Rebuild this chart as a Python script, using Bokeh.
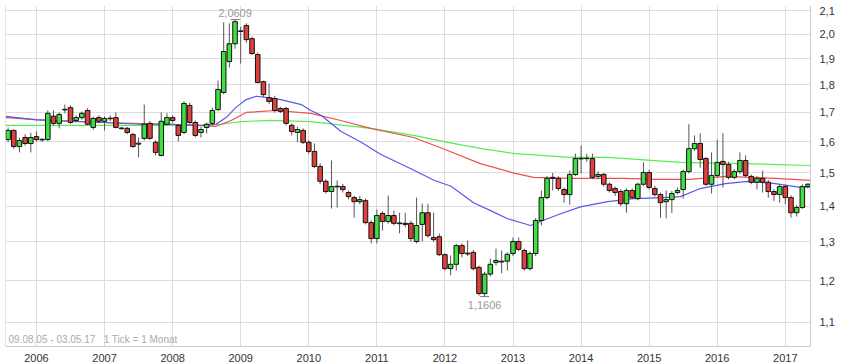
from bokeh.plotting import figure
from bokeh.models import Range1d, FixedTicker, CustomJSTickFormatter, Span, Label, ColumnDataSource
from bokeh.embed import file_html
from bokeh.resources import INLINE

# Monthly candles, Aug 2005 .. May 2017
start_year, start_month = 2005, 8
open_ = [1.607,1.638,1.584,1.614,1.594,1.617,1.606,1.607,1.687,1.662,1.709,1.717,1.672,1.682,1.707,1.648,1.682,1.669,1.678,1.682,
         1.644,1.645,1.624,1.592,1.611,1.662,1.598,1.555,1.659,1.682,1.655,1.631,1.725,1.665,1.631,1.648,1.662,1.710,1.772,1.889,
         1.960,2.011,2.036,1.981,1.917,1.812,1.753,1.750,1.714,1.714,1.655,1.631,1.638,1.598,1.568,1.520,1.474,1.443,1.457,1.458,
         1.440,1.425,1.413,1.416,1.353,1.309,1.379,1.356,1.373,1.350,1.351,1.351,1.301,1.348,1.381,1.312,1.314,1.266,1.230,1.241,
         1.290,1.268,1.272,1.233,1.168,1.216,1.246,1.247,1.249,1.269,1.301,1.277,1.230,1.269,1.359,1.425,1.486,1.483,1.449,1.434,
         1.495,1.544,1.546,1.545,1.489,1.495,1.465,1.452,1.443,1.407,1.446,1.422,1.465,1.501,1.452,1.434,1.413,1.419,1.440,1.449,
         1.504,1.577,1.594,1.545,1.465,1.492,1.536,1.526,1.486,1.504,1.539,1.489,1.471,1.483,1.471,1.443,1.434,1.458,1.425,1.381,
         1.396,1.458]
high = [1.648,1.641,1.614,1.625,1.630,1.635,1.612,1.707,1.707,1.700,1.728,1.725,1.690,1.703,1.715,1.685,1.690,1.686,1.690,1.700,
        1.650,1.650,1.630,1.614,1.728,1.670,1.605,1.700,1.697,1.690,1.660,1.740,1.735,1.672,1.650,1.665,1.717,1.816,2.049,2.045,
        2.0609,2.030,2.045,1.990,1.925,1.816,1.805,1.760,1.720,1.720,1.662,1.650,1.645,1.605,1.594,1.530,1.480,1.539,1.477,1.466,
        1.446,1.430,1.430,1.422,1.360,1.390,1.385,1.431,1.387,1.381,1.381,1.358,1.425,1.407,1.407,1.381,1.323,1.270,1.264,1.295,
        1.296,1.304,1.278,1.238,1.222,1.256,1.282,1.277,1.272,1.312,1.312,1.282,1.275,1.366,1.446,1.490,1.500,1.490,1.455,1.507,
        1.561,1.587,1.560,1.561,1.505,1.500,1.470,1.458,1.450,1.452,1.452,1.470,1.533,1.510,1.460,1.440,1.446,1.445,1.455,1.510,
        1.659,1.621,1.628,1.550,1.565,1.607,1.628,1.535,1.512,1.565,1.555,1.495,1.490,1.507,1.478,1.450,1.465,1.463,1.432,1.403,
        1.465,1.468]
low = [1.598,1.577,1.565,1.587,1.565,1.600,1.600,1.603,1.655,1.645,1.697,1.660,1.665,1.675,1.655,1.640,1.662,1.638,1.670,1.645,
       1.640,1.625,1.580,1.549,1.604,1.605,1.555,1.552,1.655,1.665,1.601,1.625,1.660,1.615,1.614,1.628,1.655,1.705,1.765,1.866,
       1.940,1.881,1.964,1.915,1.805,1.755,1.730,1.700,1.698,1.655,1.621,1.598,1.592,1.560,1.515,1.465,1.437,1.393,1.396,1.440,
       1.420,1.367,1.405,1.348,1.296,1.296,1.331,1.350,1.345,1.323,1.340,1.300,1.296,1.301,1.312,1.300,1.262,1.225,1.213,1.225,
       1.259,1.262,1.225,1.163,1.1606,1.210,1.238,1.218,1.225,1.262,1.275,1.225,1.225,1.262,1.345,1.420,1.446,1.445,1.410,1.404,
       1.490,1.498,1.535,1.480,1.480,1.458,1.440,1.430,1.400,1.381,1.420,1.417,1.460,1.450,1.428,1.367,1.365,1.380,1.435,1.422,
       1.498,1.570,1.516,1.460,1.437,1.485,1.455,1.480,1.480,1.497,1.486,1.465,1.450,1.440,1.425,1.415,1.410,1.405,1.367,1.370,
       1.392,1.452]
close = [1.638,1.584,1.604,1.594,1.614,1.607,1.608,1.697,1.662,1.693,1.711,1.665,1.682,1.697,1.659,1.679,1.669,1.679,1.680,1.648,
         1.646,1.631,1.584,1.595,1.659,1.611,1.565,1.669,1.682,1.672,1.621,1.732,1.665,1.621,1.641,1.659,1.707,1.783,1.929,1.960,
         2.052,2.013,1.977,1.921,1.809,1.764,1.739,1.707,1.704,1.662,1.634,1.641,1.598,1.568,1.520,1.474,1.443,1.458,1.459,1.449,
         1.428,1.413,1.419,1.353,1.309,1.373,1.356,1.373,1.351,1.352,1.348,1.309,1.345,1.381,1.317,1.306,1.266,1.230,1.241,1.290,
         1.269,1.270,1.230,1.168,1.216,1.241,1.251,1.249,1.267,1.301,1.280,1.230,1.269,1.359,1.425,1.483,1.483,1.452,1.434,1.495,
         1.545,1.546,1.545,1.486,1.495,1.465,1.446,1.440,1.407,1.446,1.425,1.465,1.501,1.455,1.434,1.410,1.419,1.437,1.446,1.504,
         1.577,1.594,1.542,1.465,1.492,1.533,1.526,1.486,1.504,1.539,1.492,1.471,1.483,1.471,1.443,1.434,1.458,1.425,1.381,1.396,
         1.458,1.465]

# Moving averages (year, value)
ma_blue_x = [2005.55,2006.0,2006.95,2007.54,2007.98,2008.42,2008.64,2008.79,2008.93,2009.08,2009.23,2009.37,2009.59,2009.89,2010.03,
             2010.18,2010.47,2010.77,2011.06,2011.50,2011.84,2012.09,2012.42,2012.67,2012.92,2013.26,2013.40,2013.70,2013.99,2014.39,
             2014.77,2015.21,2015.46,2015.75,2016.12,2016.45,2016.85,2017.25,2017.37]
ma_blue_y = [1.686,1.674,1.665,1.659,1.659,1.655,1.659,1.683,1.718,1.746,1.758,1.754,1.746,1.728,1.707,
             1.690,1.635,1.598,1.558,1.513,1.477,1.459,1.410,1.387,1.364,1.345,1.356,1.378,1.398,1.413,
             1.422,1.425,1.428,1.452,1.467,1.474,1.467,1.455,1.458]
ma_red_x = [2005.55,2006.0,2006.95,2007.98,2008.64,2008.86,2009.08,2009.52,2010.03,2010.47,2010.91,2011.54,2012.04,2012.52,
            2013.0,2013.30,2013.84,2014.62,2015.12,2015.60,2016.12,2016.85,2017.37]
ma_red_y = [1.682,1.675,1.665,1.659,1.652,1.672,1.700,1.707,1.697,1.672,1.645,1.614,1.571,1.529,
            1.500,1.486,1.483,1.483,1.480,1.480,1.489,1.483,1.477]
ma_green_x = [2005.55,2006.95,2008.42,2008.71,2009.0,2009.43,2010.03,2010.91,2011.54,2012.04,2012.52,2013.0,2013.84,2014.39,
              2015.46,2016.37,2017.37]
ma_green_y = [1.655,1.655,1.655,1.659,1.668,1.672,1.668,1.645,1.621,1.598,1.578,1.562,1.549,1.549,
              1.533,1.529,1.523]

y_ticks = [1.1, 1.2, 1.3, 1.4, 1.5, 1.6, 1.7, 1.8, 1.9, 2.0, 2.1]
x_ticks = list(range(2006, 2018))

n = len(close)
xs = [start_year + (start_month - 1) / 12 + i / 12 for i in range(n)]
up = [c >= o for o, c in zip(open_, close)]
src = ColumnDataSource(dict(
    x=xs, h=high, l=low,
    top=[max(o, c) for o, c in zip(open_, close)],
    bottom=[min(o, c) for o, c in zip(open_, close)],
    color=["#3fe03f" if u else "#e0403c" for u in up],
))

FONT = "Liberation Sans"
p = figure(frame_width=805, frame_height=341, y_axis_type="log", y_axis_location="right",
           x_range=Range1d(2005.545, 2017.37), y_range=Range1d(1.0466, 2.1219),
           output_backend="svg", toolbar_location=None,
           min_border_left=5, min_border_top=5, min_border_right=0, min_border_bottom=0)
p.outline_line_color = None

p.xgrid.ticker = FixedTicker(ticks=x_ticks)
p.ygrid.ticker = FixedTicker(ticks=y_ticks)
p.xgrid.grid_line_color = "#dddddd"
p.ygrid.grid_line_color = "#dddddd"

p.yaxis.ticker = FixedTicker(ticks=y_ticks)
p.yaxis.formatter = CustomJSTickFormatter(code="return tick.toFixed(1).replace('.', ',');")
p.xaxis.ticker = FixedTicker(ticks=x_ticks)
for ax in (p.xaxis[0], p.yaxis[0]):
    ax.axis_line_color = "#cccccc"
    ax.major_tick_line_color = None
    ax.minor_tick_line_color = None
    ax.major_label_text_font = FONT
    ax.major_label_text_font_size = "11px"
    ax.major_label_text_color = "#333333"
p.xaxis.major_label_standoff = 1
p.yaxis.major_label_standoff = 3

p.add_layout(Span(location=2005.545, dimension="height", line_color="#cccccc", line_width=1))

# moving averages
p.line(ma_green_x, ma_green_y, line_color="#55ee55", line_width=1.2)
p.line(ma_red_x, ma_red_y, line_color="#ef4f4f", line_width=1.2)
p.line(ma_blue_x, ma_blue_y, line_color="#5858ee", line_width=1.2)

# candles
p.segment(x0="x", y0="h", x1="x", y1="l", source=src, line_color="#555555", line_width=1)
p.vbar(x="x", top="top", bottom="bottom", width=0.8 / 12, source=src,
       fill_color="color", line_color="#111111", line_width=1)

# extremes
i_hi = high.index(max(high))
i_lo = low.index(min(low))
p.scatter([xs[i_hi], xs[i_lo]], [high[i_hi], low[i_lo]], marker="dash", size=9, line_color="#777777")
p.add_layout(Label(x=xs[i_hi], y=high[i_hi], text="2,0609", text_align="center", text_baseline="bottom",
                   y_offset=3, text_font=FONT, text_font_size="11px", text_color="#999999"))
p.add_layout(Label(x=xs[i_lo], y=low[i_lo], text="1,1606", text_align="center", text_baseline="top",
                   y_offset=-4, text_font=FONT, text_font_size="11px", text_color="#999999"))
p.add_layout(Label(x=2005.59, y=1.049, text="09.08.05 - 03.05.17\u00a0\u00a0\u00a01 Tick = 1 Monat", text_align="left",
                   text_baseline="bottom", text_font=FONT, text_font_size="10px", text_color="#aaaaaa"))

open("out.html", "w").write(file_html(p, INLINE))
